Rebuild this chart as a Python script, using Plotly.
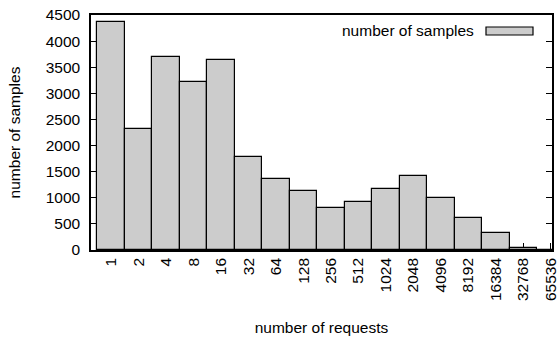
import plotly.graph_objects as go

categories = ["1", "2", "4", "8", "16", "32", "64", "128", "256", "512",
              "1024", "2048", "4096", "8192", "16384", "32768", "65536"]
samples = [4360, 2320, 3700, 3215, 3640, 1785, 1360, 1130, 810, 915,
           1165, 1420, 990, 605, 325, 45, 3]
y_ticks = [0, 500, 1000, 1500, 2000, 2500, 3000, 3500, 4000, 4500]
series_name = "number of samples"
x_title = "number of requests"
y_title = "number of samples"

FONT = "Liberation Sans, Arial, sans-serif"
FS = 15.5

fig = go.Figure()
fig.add_trace(go.Bar(
    x=categories, y=samples, name=series_name,
    marker=dict(color="#cccccc", line=dict(color="black", width=1.2)),
    showlegend=False,
))

W, H = 559, 339
L, R, T, B = 91, 7, 15, 89
pw, ph = W - L - R, H - T - B

def px(x):
    return (x - L) / pw

def py(y):
    return (H - B - y) / ph

fig.add_shape(type="rect", xref="paper", yref="paper",
              x0=px(486), x1=px(533), y0=py(35), y1=py(27),
              fillcolor="#cccccc", line=dict(color="black", width=1.2))
fig.add_annotation(text=series_name, xref="paper", yref="paper",
                   x=px(476), y=py(31), xanchor="right", yanchor="middle",
                   showarrow=False, font=dict(family=FONT, size=FS, color="black"))

fig.update_layout(
    width=W, height=H,
    margin=dict(l=L, r=R, t=T, b=B, autoexpand=False),
    plot_bgcolor="white", paper_bgcolor="white",
    bargap=0,
    font=dict(family=FONT, size=FS, color="black"),
    xaxis=dict(
        type="category",
        range=[-0.73, 16.04],
        showline=True, linecolor="black", linewidth=1.5, mirror=True,
        ticks="inside", ticklen=7, tickcolor="black", tickwidth=1,
        tickangle=-90,
        showgrid=False, zeroline=False,
        layer="below traces",
        title=dict(text=x_title, standoff=22, font=dict(family=FONT, size=FS)),
        automargin=False,
    ),
    yaxis=dict(
        range=[0, 4500],
        tickvals=y_ticks,
        showline=True, linecolor="black", linewidth=1.5, mirror="ticks",
        ticks="inside", ticklen=6, tickcolor="black", tickwidth=1,
        showgrid=False, zeroline=False,
        ticklabelstandoff=6,
        title=dict(text=y_title, standoff=21, font=dict(family=FONT, size=FS)),
        automargin=False,
    ),
)

fig.write_html("out.html",
               config={"displayModeBar": False},
               post_script="document.body.style.margin='0';document.body.style.overflow='hidden';")
